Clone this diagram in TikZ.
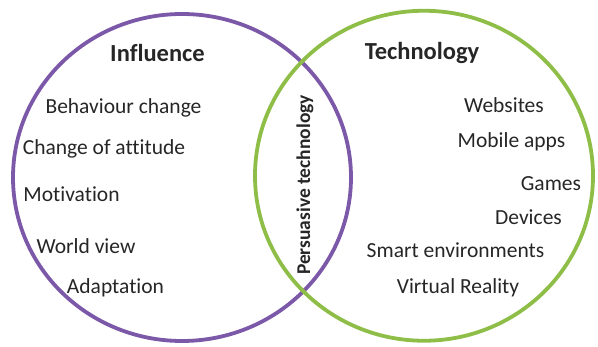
\documentclass[tikz,border=0pt]{standalone}
\usepackage{fontspec}
\setmainfont{Carlito}[Ligatures={NoCommon}]
\definecolor{vpurple}{RGB}{124,88,168}
\definecolor{vgreen}{RGB}{142,190,72}
\definecolor{vtext}{RGB}{38,38,38}
\begin{document}
\begin{tikzpicture}[x=1pt,y=-1pt,
  setring/.style={line width=3.8pt},
  heading/.style={text=vtext,inner sep=0pt,font=\fontsize{24.5}{28}\selectfont\bfseries},
  item/.style={text=vtext,inner sep=0pt,font=\fontsize{21.5}{24}\selectfont},
  overlap/.style={text=vtext,inner sep=0pt,rotate=90,font=\fontsize{19.5}{22}\selectfont\bfseries}]
\useasboundingbox (0,0) rectangle (598,347);
% the two sets
\draw[setring,vpurple] (182,177.5) ellipse [x radius=169,y radius=163.5];
\draw[setring,vgreen] (424,175.75) ellipse [x radius=169,y radius=165];
% left set
\node[heading] (influence) at (157.5,53) {Influence};
\node[item] (behaviour) at (123.5,107.5) {Behaviour change};
\node[item] (attitude) at (104,148.5) {Change of attitude};
\node[item] (motivation) at (71.5,194) {Motivation};
\node[item] (worldview) at (86,246) {World view};
\node[item] (adaptation) at (115.5,288) {Adaptation};
% right set
\node[heading] (technology) at (422,53) {Technology};
\node[item] (websites) at (504,105) {Websites};
\node[item] (mobile) at (511.5,142) {Mobile apps};
\node[item] (games) at (551,184) {Games};
\node[item] (devices) at (528.5,217) {Devices};
\node[item] (smart) at (455.5,250) {Smart environments};
\node[item] (vr) at (458,288) {Virtual Reality};
% intersection
\node[overlap] (persuasive) at (305,185) {Persuasive technology};
\end{tikzpicture}
\end{document}
